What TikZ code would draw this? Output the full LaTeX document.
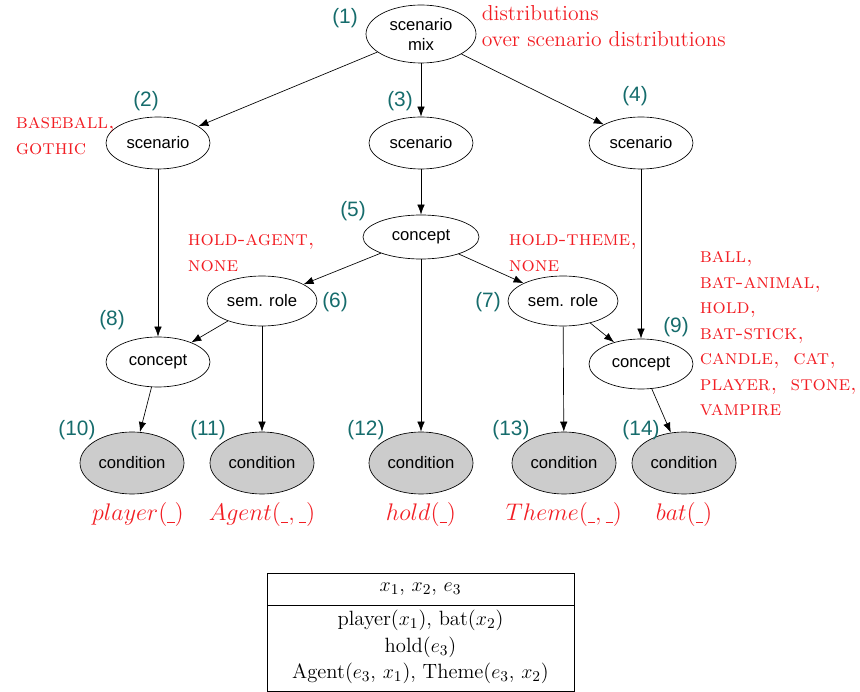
\documentclass[tikz,border=0pt]{standalone}
\usepackage{fontspec}
\setsansfont{Liberation Sans}
\usetikzlibrary{shapes.geometric,arrows.meta}
\definecolor{numteal}{RGB}{22,108,108}
\definecolor{labred}{RGB}{242,30,36}
\newcommand{\slot}{\mbox{\rule[-0.2ex]{0.32em}{0.5pt}}}
\tikzset{
  latent/.style={ellipse,draw,inner sep=0pt,font=\sffamily,align=center},
  observed/.style={latent,fill=black!20},
  num/.style={text=numteal,font=\sffamily\fontsize{12.5}{15}\selectfont},
  redlab/.style={text=labred,font=\fontsize{12.5}{15.3}\selectfont,align=left,anchor=west},
  redmath/.style={text=labred,font=\fontsize{13.6}{16}\selectfont},
  boxtext/.style={font=\fontsize{12.4}{15.9}\selectfont,align=center},
  edge/.style={-{Latex[length=6pt,width=4.5pt]}}
}
\begin{document}
\begin{tikzpicture}[x=0.6pt,y=-0.6pt]
\useasboundingbox (0,0) rectangle (860,692);

% nodes of the model
\node[latent,minimum width=66pt,minimum height=34.8pt] (mix) at (421,34) {scenario\\mix};
\node[latent,minimum width=62.4pt,minimum height=31.2pt] (scenA) at (158,143) {scenario};
\node[latent,minimum width=62.4pt,minimum height=31.2pt] (scenB) at (421,143) {scenario};
\node[latent,minimum width=62.4pt,minimum height=31.2pt] (scenC) at (641,143) {scenario};
\node[latent,minimum width=69.6pt,minimum height=26.4pt] (conc) at (421,237) {concept};
\node[latent,minimum width=66pt,minimum height=30pt] (roleA) at (262,301) {sem. role};
\node[latent,minimum width=66pt,minimum height=30pt] (roleB) at (563,301) {sem. role};
\node[latent,minimum width=62.4pt,minimum height=30pt] (concA) at (158,362) {concept};
\node[latent,minimum width=62.4pt,minimum height=30pt] (concB) at (641,364) {concept};
\node[observed,minimum width=62.4pt,minimum height=37.2pt] (condA) at (132,463) {condition};
\node[observed,minimum width=62.4pt,minimum height=37.2pt] (condB) at (262,463) {condition};
\node[observed,minimum width=62.4pt,minimum height=37.2pt] (condC) at (421,463) {condition};
\node[observed,minimum width=62.4pt,minimum height=37.2pt] (condD) at (564,463) {condition};
\node[observed,minimum width=62.4pt,minimum height=37.2pt] (condE) at (684,463) {condition};

% edges
\draw[edge] (mix) -- (scenA);
\draw[edge] (mix) -- (scenB);
\draw[edge] (mix) -- (scenC);
\draw[edge] (scenA) -- (concA);
\draw[edge] (scenB) -- (conc);
\draw[edge] (scenC) -- (concB);
\draw[edge] (conc) -- (roleA);
\draw[edge] (conc) -- (condC);
\draw[edge] (conc) -- (roleB);
\draw[edge] (roleA) -- (concA);
\draw[edge] (roleA) -- (condB);
\draw[edge] (roleB) -- (condD);
\draw[edge] (roleB) -- (concB);
\draw[edge] (concA) -- (condA);
\draw[edge] (concB) -- (condE);

% numbers
\node[num] (n1) at (345,18) {(1)};
\node[num] (n2) at (146,101) {(2)};
\node[num] (n3) at (400,101) {(3)};
\node[num] (n4) at (635,96) {(4)};
\node[num] (n5) at (353,211) {(5)};
\node[num] (n6) at (335,302) {(6)};
\node[num] (n7) at (488,302) {(7)};
\node[num] (n8) at (112,320) {(8)};
\node[num] (n9) at (676,327) {(9)};
\node[num] (n10) at (77,430) {(10)};
\node[num] (n11) at (208,430) {(11)};
\node[num] (n12) at (366,430) {(12)};
\node[num] (n13) at (511,430) {(13)};
\node[num] (n14) at (641,430) {(14)};

% value sets
\node[redlab,font=\fontsize{13}{15.3}\selectfont] (vmix) at (476,26) {distributions\\over scenario distributions};
\node[redlab] (vscen) at (10,136) {\textsc{baseball,}\\\textsc{gothic}};
\node[redlab] (vroleA) at (182,253) {\textsc{hold-agent,}\\\textsc{none}};
\node[redlab] (vroleB) at (503,253) {\textsc{hold-theme,}\\\textsc{none}};
\node[redlab] (vconc) at (694,334) {\textsc{ball,}\\\textsc{bat-animal,}\\\textsc{hold,}\\\textsc{bat-stick,}\\\textsc{candle,}\ \ \textsc{cat,}\\\textsc{player,}\ \ \textsc{stone,}\\\textsc{vampire}};

% predicates
\node[redmath] (pA) at (138,515) {$player(\slot)$};
\node[redmath] (pB) at (262,515) {$Agent(\slot,\slot)$};
\node[redmath] (pC) at (421,515) {$hold(\slot)$};
\node[redmath] (pD) at (564,515) {$Theme(\slot,\slot)$};
\node[redmath] (pE) at (684,515) {$bat(\slot)$};

% the box
\draw (267,573) rectangle (574,691);
\draw (267,605) -- (574,605);
\node[boxtext] (head) at (420.5,589) {$x_1$, $x_2$, $e_3$};
\node[boxtext] (body) at (420.5,647) {player($x_1$), bat($x_2$)\\hold($e_3$)\\Agent($e_3$, $x_1$), Theme($e_3$, $x_2$)};
\end{tikzpicture}
\end{document}
